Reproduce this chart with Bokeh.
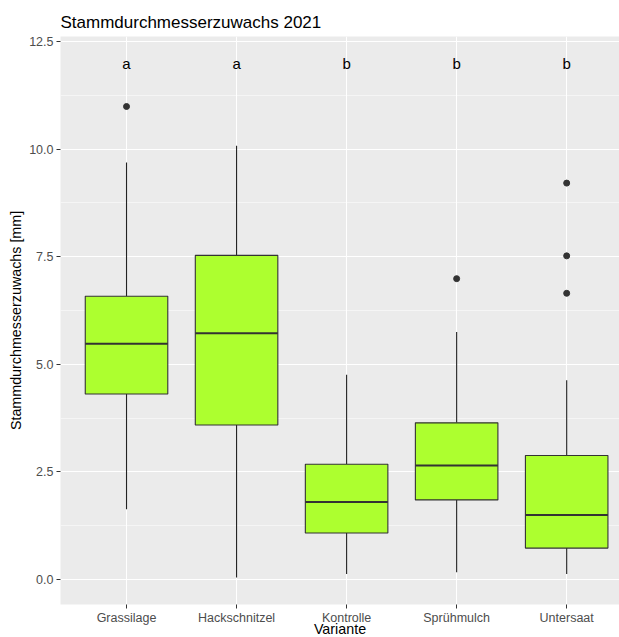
from bokeh.plotting import figure
from bokeh.models import ColumnDataSource, FixedTicker
from bokeh.core.properties import value
from bokeh.embed import file_html
from bokeh.resources import INLINE

categories = ["Grassilage", "Hackschnitzel", "Kontrolle", "Sprühmulch", "Untersaat"]
lower = [1.63, 0.05, 0.13, 0.17, 0.13]
q1 = [4.31, 3.59, 1.08, 1.85, 0.73]
median = [5.48, 5.72, 1.80, 2.65, 1.50]
q3 = [6.58, 7.53, 2.68, 3.64, 2.88]
upper = [9.69, 10.08, 4.76, 5.75, 4.63]
outlier_cat = ["Grassilage", "Sprühmulch", "Untersaat", "Untersaat", "Untersaat"]
outlier_val = [10.99, 6.99, 9.21, 7.52, 6.65]
letters = ["a", "a", "b", "b", "b"]
letter_y = [12, 12, 12, 12, 12]
y_ticks = [0.0, 2.5, 5.0, 7.5, 10.0, 12.5]
y_minor = [1.25, 3.75, 6.25, 8.75, 11.25]

FONT = "Liberation Sans"
BOX_W = 0.75

xpos = [i + 1 for i in range(len(categories))]
pos_of = {c: i + 1 for i, c in enumerate(categories)}

src = ColumnDataSource(dict(
    x=xpos, lower=lower, q1=q1, median=median, q3=q3, upper=upper,
    x0=[x - BOX_W / 2 for x in xpos], x1=[x + BOX_W / 2 for x in xpos],
    letters=letters, ly=letter_y,
))
out_src = ColumnDataSource(dict(x=[pos_of[c] for c in outlier_cat], y=outlier_val))

p = figure(frame_width=559, frame_height=568, output_backend="svg", toolbar_location=None,
           x_range=(0.4, 5.48), y_range=(-0.58, 12.616),
           min_border_left=60, min_border_right=0, min_border_top=36, min_border_bottom=33,
           title="Stammdurchmesserzuwachs 2021")

p.background_fill_color = "#EBEBEB"
p.border_fill_color = "white"
p.outline_line_color = None

p.title.text_font = FONT
p.title.text_font_size = "17px"
p.title.text_font_style = "normal"
p.title.text_color = "black"
p.title.align = "left"
p.title.offset = 0
p.title.standoff = 9

# axes
p.xaxis.ticker = FixedTicker(ticks=xpos)
p.xaxis.major_label_overrides = {x: c for x, c in zip(xpos, categories)}
p.yaxis.ticker = FixedTicker(ticks=y_ticks, minor_ticks=y_minor)
p.yaxis.major_label_overrides = {t: f"{t:.1f}" for t in y_ticks}
for ax in (p.xaxis, p.yaxis):
    ax.axis_line_color = None
    ax.major_tick_line_color = "#333333"
    ax.major_tick_in = 0
    ax.major_tick_out = 4
    ax.minor_tick_line_color = None
    ax.major_label_text_font = FONT
    ax.major_label_text_font_size = "12.5px"
    ax.major_label_text_color = "#4D4D4D"
    ax.axis_label_text_font = FONT
    ax.axis_label_text_font_size = "14.3px"
    ax.axis_label_text_font_style = "normal"
    ax.axis_label_text_color = "black"
p.xaxis.axis_label = "Variante"
p.yaxis.axis_label = "Stammdurchmesserzuwachs [mm]"
p.xaxis.major_label_standoff = 2
p.xaxis.axis_label_standoff = -7
p.yaxis.major_label_standoff = 3
p.yaxis.axis_label_standoff = 2

p.xgrid.grid_line_color = "white"
p.xgrid.grid_line_width = 1.1
p.ygrid.grid_line_color = "white"
p.ygrid.grid_line_width = 1.1
p.ygrid.minor_grid_line_color = "white"
p.ygrid.minor_grid_line_width = 0.5

# whiskers
p.segment(x0="x", y0="q3", x1="x", y1="upper", source=src, line_color="#222222", line_width=1.1)
p.segment(x0="x", y0="q1", x1="x", y1="lower", source=src, line_color="#222222", line_width=1.1)
# boxes
p.vbar(x="x", width=BOX_W, bottom="q1", top="q3", source=src,
       fill_color="#ADFF2F", line_color="#333333", line_width=1.1)
# median
p.segment(x0="x0", y0="median", x1="x1", y1="median", source=src, line_color="#333333", line_width=2)
# outliers
p.scatter(x="x", y="y", source=out_src, size=6, fill_color="#333333", line_color="#333333")
# letters
p.text(x="x", y="ly", text="letters", source=src, text_align="center", text_baseline="middle",
       text_font=value(FONT), text_font_size="15px", text_color="black")

open("out.html", "w").write(file_html(p, INLINE))
